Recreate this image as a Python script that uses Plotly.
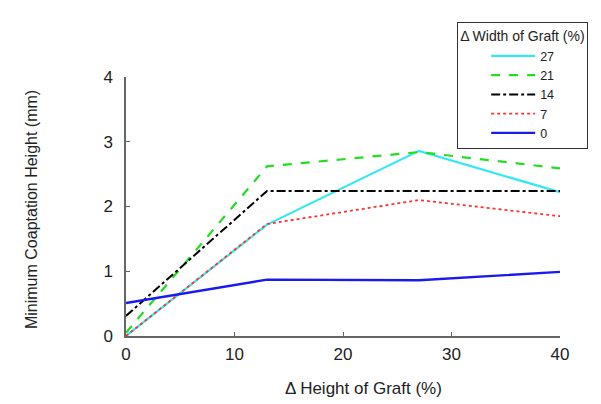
import plotly.graph_objects as go

x_height = [0, 13, 27, 40]
width_labels = ["27", "21", "14", "7", "0"]
y_27 = [0.0, 1.72, 2.86, 2.22]
y_21 = [0.05, 2.62, 2.84, 2.59]
y_14 = [0.31, 2.24, 2.24, 2.24]
y_7 = [0.0, 1.73, 2.10, 1.85]
y_0 = [0.51, 0.87, 0.86, 0.99]

series = [y_27, y_21, y_14, y_7, y_0]
colors = ["#33e8f0", "#22dd22", "#000000", "#ff3333", "#1a1aee"]
dashes = ["solid", "dash", "dashdot", "dot", "solid"]
widths = [2.2, 2.2, 2.0, 1.8, 2.4]

fig = go.Figure()
for lab, ys, c, d, w in zip(width_labels, series, colors, dashes, widths):
    fig.add_trace(go.Scatter(x=x_height, y=ys, mode="lines", name=lab,
                             line=dict(color=c, dash=d, width=w)))

font_family = "Liberation Sans, Arial, sans-serif"
fig.update_layout(
    width=601, height=404,
    margin=dict(l=118, r=49, t=69, b=76, autoexpand=False),
    plot_bgcolor="white", paper_bgcolor="white",
    font=dict(family=font_family, color="#222222"),
    xaxis=dict(range=[0, 40], tickvals=[0, 10, 20, 30, 40], showgrid=False, zeroline=False,
               showline=True, linecolor="#666666", linewidth=1.5, ticks="inside",
               ticklen=4, tickcolor="#666666", tickfont=dict(size=17),
               ticklabelstandoff=2),
    yaxis=dict(range=[0, 4], tickvals=[0, 1, 2, 3, 4], showgrid=False, zeroline=False,
               showline=True, linecolor="#666666", linewidth=1.5, ticks="inside",
               ticklen=4, tickcolor="#666666", tickfont=dict(size=17),
               ticklabelstandoff=8),
    annotations=[
        dict(text="Δ Height of Graft (%)", xref="paper", yref="paper",
             x=0.548, y=-0.2046, xanchor="center", yanchor="middle",
             showarrow=False, font=dict(size=17)),
        dict(text="Minimum Coaptation Height (mm)", xref="paper", yref="paper",
             x=-0.219, y=0.49, xanchor="center", yanchor="middle", textangle=-90,
             showarrow=False, font=dict(size=16)),
    ],
    legend=dict(x=0.763, y=1.212, xanchor="left", yanchor="top",
                bordercolor="#333333", borderwidth=1, bgcolor="white",
                itemwidth=44, indentation=28, font=dict(size=12.5),
                title=dict(text="Δ Width of Graft (%)", font=dict(size=14), side="top")),
)
fig.write_html("out.html")
